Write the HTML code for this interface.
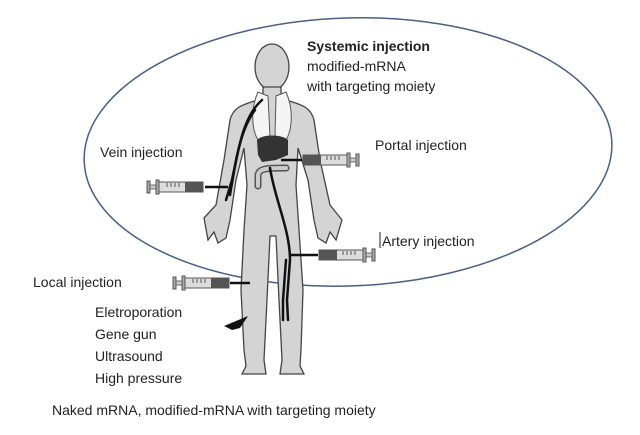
<!DOCTYPE html>
<html><head><meta charset="utf-8"><style>
html,body{margin:0;padding:0;background:#fff;}
svg{display:block;}
text{font-family:"Liberation Sans",sans-serif;font-size:14px;fill:#222;}
</style></head><body>
<svg width="640" height="435" viewBox="0 0 640 435" xmlns="http://www.w3.org/2000/svg">
<defs>
<g id="syr">
  <rect x="0" y="-6" width="3" height="12" fill="#aaa" stroke="#555" stroke-width="1"/>
  <rect x="3" y="-2" width="6" height="4" fill="#ccc" stroke="#555" stroke-width="0.8"/>
  <rect x="9" y="-7" width="3" height="14" fill="#aaa" stroke="#555" stroke-width="1"/>
  <rect x="12" y="-5" width="44" height="10" fill="#ddd" stroke="#555" stroke-width="1"/>
  <rect x="38" y="-5" width="18" height="10" fill="#555"/>
  <g stroke="#333" stroke-width="0.8"><line x1="20" y1="-4" x2="20" y2="0"/><line x1="24" y1="-4" x2="24" y2="0"/><line x1="28" y1="-4" x2="28" y2="0"/><line x1="32" y1="-4" x2="32" y2="0"/></g>
</g>
</defs>
<ellipse cx="348" cy="152" rx="264" ry="134" transform="rotate(-2 348 152)" fill="none" stroke="#4a5f85" stroke-width="1.5"/>
<g fill="#d4d4d4" stroke="#444" stroke-width="1.3">
<ellipse cx="272" cy="67" rx="17" ry="23"/>
<path d="M263,87 L263,98 C248,104 234,104 230,120 L224,160 L216,205 L204,218 L208,240 L214,232 L218,243 L226,238 L230,220 L236,180 L244,148 L247,185 L244,230 L241,290 L244,350 L246,366 L242,374 L266,374 L264,360 L267,300 L270,236 L276,236 L279,300 L282,360 L280,374 L304,374 L300,366 L301,350 L303,290 L299,230 L296,185 L298,148 L308,180 L314,220 L318,238 L326,243 L330,232 L336,240 L342,220 L330,205 L320,160 L314,120 C310,104 296,104 281,98 L281,87 Z"/>
</g>
<path d="M258,92 C250,110 252,130 258,140 L270,136 L268,96 Z M286,92 C294,110 292,130 286,140 L275,136 L276,96 Z" fill="#f5f5f5" stroke="#555" stroke-width="1"/>
<path d="M257,140 C262,134 282,134 288,140 L288,155 L276,160 L262,162 L258,155 Z" fill="#333"/>
<path d="M258,176 L258,186 M258,176 C258,168 268,168 286,168" fill="none" stroke="#555" stroke-width="7" stroke-linecap="round"/>
<path d="M258,176 L258,186 M258,176 C258,168 268,168 286,168" fill="none" stroke="#ccc" stroke-width="4" stroke-linecap="round"/>
<g fill="none" stroke="#111" stroke-width="2.5" stroke-linecap="round">
<path d="M262,100 C245,115 240,140 232,180 L226,200"/>
<path d="M255,110 C240,130 236,160 230,195"/>
<path d="M270,168 C275,200 290,230 290,260 L287,300 L288,320"/>
<path d="M286,260 L283,300 L283,320"/>
</g>
<line x1="205" y1="187" x2="228" y2="187" stroke="#111" stroke-width="2.5"/>
<use href="#syr" transform="translate(147,187)"/>
<line x1="281" y1="160" x2="302" y2="160" stroke="#111" stroke-width="2.5"/>
<use href="#syr" transform="translate(359,160) scale(-1,1)"/>
<line x1="290" y1="255" x2="318" y2="255" stroke="#111" stroke-width="2.5"/>
<use href="#syr" transform="translate(375,255) scale(-1,1)"/>
<line x1="230" y1="283" x2="250" y2="283" stroke="#111" stroke-width="2.5"/>
<use href="#syr" transform="translate(173,283)"/>
<path d="M224,326 L248,316 L240,328 L232,330 Z" fill="#111"/>
<text x="307" y="51" font-weight="bold">Systemic injection</text>
<text x="307" y="71">modified-mRNA</text>
<text x="307" y="91">with targeting moiety</text>
<text x="100" y="157">Vein injection</text>
<text x="375" y="150">Portal injection</text>
<line x1="380" y1="232" x2="380" y2="248" stroke="#222" stroke-width="1"/>
<text x="382" y="246">Artery injection</text>
<text x="33" y="287">Local injection</text>
<text x="95" y="317">Eletroporation</text>
<text x="95" y="339">Gene gun</text>
<text x="95" y="361">Ultrasound</text>
<text x="95" y="383">High pressure</text>
<text x="52" y="415">Naked mRNA, modified-mRNA with targeting moiety</text>
</svg>
</body></html>
